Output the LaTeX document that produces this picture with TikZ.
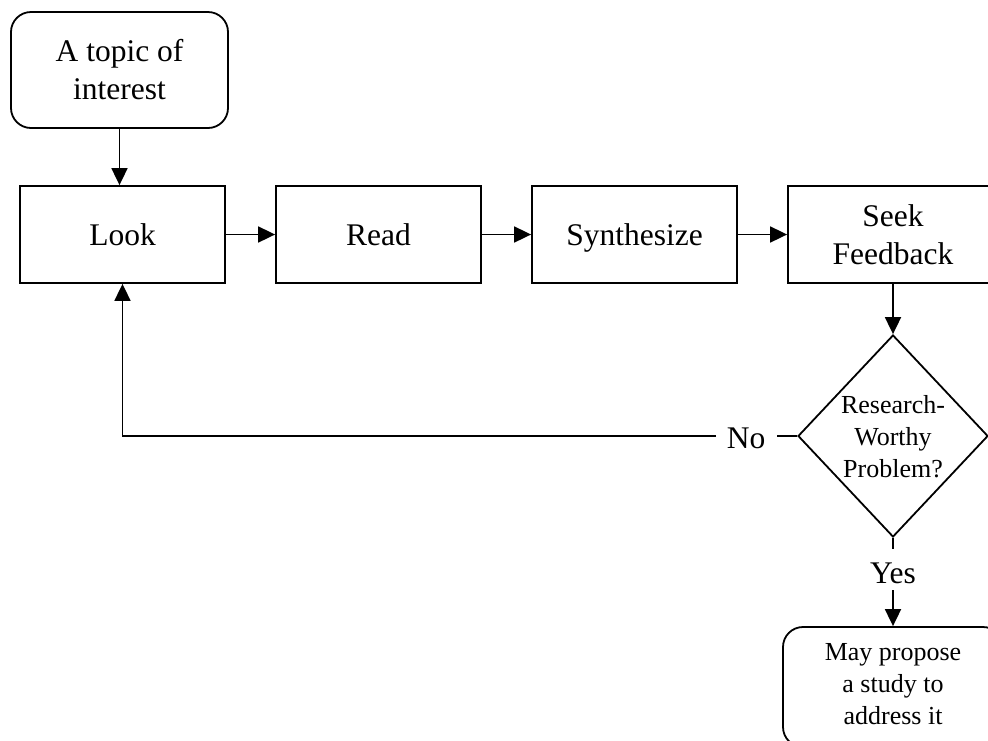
\documentclass[tikz,border=0pt]{standalone}
\usepackage{fontspec}
\setmainfont{Liberation Serif}
\usetikzlibrary{shapes.geometric,arrows.meta}
\tikzset{
  big/.style={font=\fontsize{31.5}{38}\selectfont},
  small/.style={font=\fontsize{26}{32}\selectfont},
  stepbox/.style={draw, line width=1.8pt, minimum width=205pt, minimum height=97pt, inner sep=0pt, big, text depth=0pt},
  roundbox/.style={draw, line width=1.8pt, rounded corners=20pt, inner sep=0pt, align=center},
  conn/.style={line width=1.8pt, -{Triangle[length=17pt,width=16pt]}},
  plain/.style={line width=1.8pt}
}
\begin{document}
\begin{tikzpicture}[x=1pt,y=-1pt]
\useasboundingbox (0,0) rectangle (988,740);
\clip (0,0) rectangle (988,740);
\node[roundbox, big, minimum width=217pt, minimum height=116pt] (topic) at (119.5,70) {A topic of\\interest};
\node[stepbox] (look) at (122.5,234.5) {Look};
\node[stepbox] (read) at (378.5,234.5) {Read};
\node[stepbox] (syn) at (634.5,234.5) {Synthesize};
\node[draw, line width=1.8pt, minimum width=210pt, minimum height=97pt, inner sep=0pt, big, align=center] (seek) at (893,234.5) {Seek\\Feedback};
\node[diamond, draw, line width=1.8pt, minimum width=190pt, minimum height=202pt, inner sep=0pt] (dec) at (893,436) {};
\node[small, align=center] (dectext) at (893,437) {Research-\\Worthy\\Problem?};
\node[big, inner sep=0pt] (no) at (746,438) {No};
\node[big, inner sep=0pt] (yes) at (893,573) {Yes};
\node[roundbox, small, minimum width=220pt, minimum height=120pt] (prop) at (893,687) {};
\node[small, align=center] (proptext) at (893,684) {May propose\\a study to\\address it};
\coordinate (noR) at (777,436);
\coordinate (noL) at (716,436);
\coordinate (yesT) at (893,549);
\coordinate (yesB) at (893,590);
\draw[conn] (topic.south) -- (topic.south |- look.north);
\draw[conn] (look) -- (read);
\draw[conn] (read) -- (syn);
\draw[conn] (syn) -- (seek);
\draw[conn] (seek) -- (dec.north);
\draw[plain] (dec.west) -- (noR);
\draw[conn] (noL) -| (look.south);
\draw[plain] (dec.south) -- (yesT);
\draw[conn] (yesB) -- (prop.north);
\end{tikzpicture}
\end{document}
